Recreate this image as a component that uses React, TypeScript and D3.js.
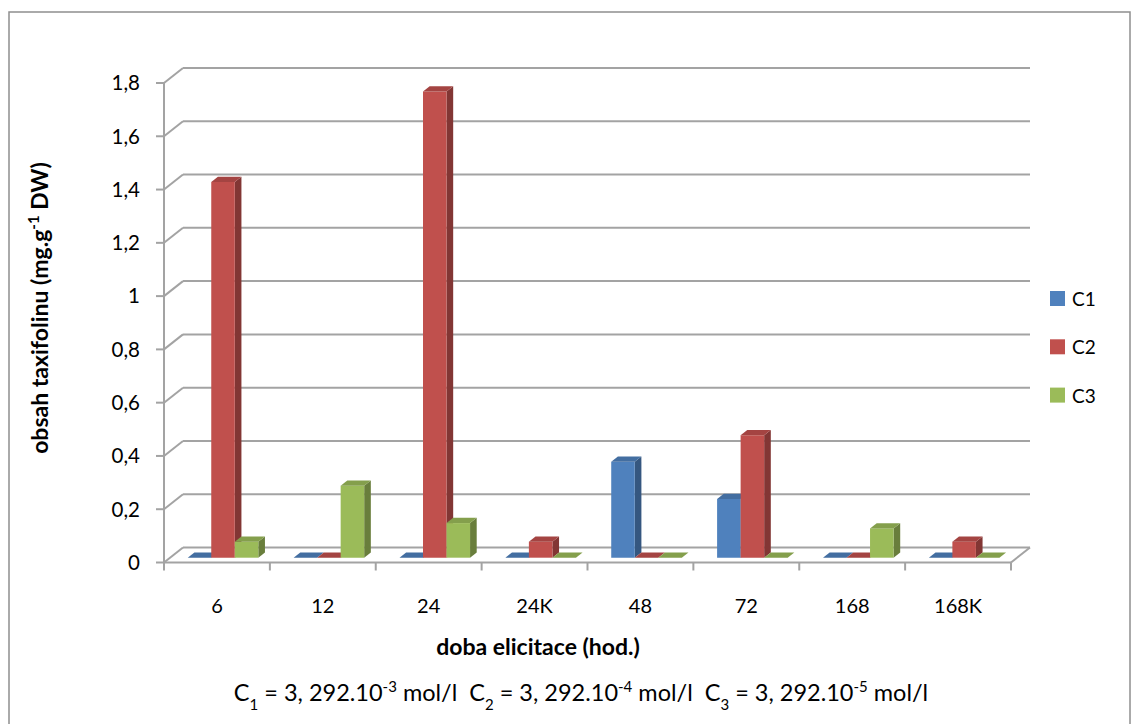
import React from "react";
import * as d3 from "d3";

// Taxifolin content by elicitation time, three elicitor concentrations
const categories = ["6", "12", "24", "24K", "48", "72", "168", "168K"];
const seriesNames = ["C1", "C2", "C3"];
const c1Values = [0, 0, 0, 0, 0.36, 0.22, 0, 0];
const c2Values = [1.41, 0, 1.75, 0.06, 0, 0.46, 0, 0.06];
const c3Values = [0.06, 0.27, 0.13, 0, 0, 0, 0.11, 0];
const yTicks = [0, 0.2, 0.4, 0.6, 0.8, 1, 1.2, 1.4, 1.6, 1.8];
const seriesColors = ["#4F81BD", "#C0504D", "#9BBB59"];

const W = 1131;
const H = 724;
const FONT = "Lato, 'Open Sans', sans-serif";

// plot box (front plane) and depth projection
const X0 = 164;
const X1 = 1011;
const Y0 = 562.5;
const YTOP = 83;
const DX = 19;
const DY = 15;
const Z0 = 0.32;
const Z1 = 0.67;

const proj = (x: number, y: number, z: number): [number, number] => [x + z * DX, y - z * DY];
const pts = (arr: [number, number][]) => arr.map((p) => p.join(",")).join(" ");
const GAP = "\u00a0\u00a0";

export default function App() {
  const seriesValues = [c1Values, c2Values, c3Values];
  const x = d3.scaleBand<string>().domain(categories).range([X0, X1]).padding(0);
  const xs = d3
    .scaleBand<string>()
    .domain(seriesNames)
    .range([0, x.bandwidth()])
    .paddingInner(0)
    .paddingOuter(0.75);
  const y = d3.scaleLinear().domain([0, 1.8]).range([Y0, YTOP]);
  const fmt = (v: number) => d3.format("~g")(v).replace(".", ",");

  const grid = "#a3a3a3";

  const bars: JSX.Element[] = [];
  categories.forEach((cat, ci) => {
    seriesNames.forEach((s, si) => {
      const v = seriesValues[si][ci];
      const bx = (x(cat) as number) + (xs(s) as number);
      const bw = xs.bandwidth();
      const yb = y(0);
      const yt = y(v);
      const base = d3.color(seriesColors[si])!;
      const topCol = base.darker(0.45).formatHex();
      const sideCol = base.darker(1.1).formatHex();
      const fbl = proj(bx, yb, Z0);
      const fbr = proj(bx + bw, yb, Z0);
      const ftl = proj(bx, yt, Z0);
      const ftr = proj(bx + bw, yt, Z0);
      const btl = proj(bx, yt, Z1);
      const btr = proj(bx + bw, yt, Z1);
      const bbr = proj(bx + bw, yb, Z1);
      bars.push(
        <g key={`${cat}-${s}`}>
          {v > 0 && <polygon points={pts([fbr, bbr, btr, ftr])} fill={sideCol} />}
          {v > 0 && <polygon points={pts([fbl, fbr, ftr, ftl])} fill={seriesColors[si]} />}
          <polygon points={pts([ftl, ftr, btr, btl])} fill={topCol} />
        </g>
      );
    });
  });

  return (
    <svg
      width={W}
      height={H}
      style={{ position: "absolute", left: 0, top: 0, background: "#fff" }}
      fontFamily={FONT}
    >
      <rect x={9} y={12} width={1121} height={740} fill="#fff" stroke="#8f8f8f" strokeWidth={1.5} />

      {/* back wall and side wall gridlines */}
      {yTicks.map((t) => {
        const a = proj(X0, y(t), 0);
        const b = proj(X0, y(t), 1);
        const c = proj(X1, y(t), 1);
        return (
          <g key={`g${t}`}>
            <line x1={a[0]} y1={a[1]} x2={b[0]} y2={b[1]} stroke={grid} strokeWidth={2} />
            <line x1={b[0]} y1={b[1]} x2={c[0]} y2={c[1]} stroke={grid} strokeWidth={2} />
          </g>
        );
      })}

      {/* floor edges */}
      {(() => {
        const a = proj(X1, Y0, 0);
        const b = proj(X1, Y0, 1);
        return <line x1={a[0]} y1={a[1]} x2={b[0]} y2={b[1]} stroke={grid} strokeWidth={2} />;
      })()}
      <line x1={X0} y1={Y0} x2={X1} y2={Y0} stroke={grid} strokeWidth={2} />

      {/* value axis */}
      <line x1={X0} y1={y(1.8)} x2={X0} y2={Y0} stroke={grid} strokeWidth={2} />
      {yTicks.map((t) => (
        <g key={`yt${t}`}>
          <line x1={X0 - 8} y1={y(t)} x2={X0} y2={y(t)} stroke={grid} strokeWidth={2} />
          <text x={140} y={y(t)} dy="0.36em" textAnchor="end" fontSize={20.5} fill="#000">
            {fmt(t)}
          </text>
        </g>
      ))}

      {/* category axis */}
      {d3.range(categories.length + 1).map((i) => {
        const xx = X0 + i * x.bandwidth();
        return <line key={`xt${i}`} x1={xx} y1={Y0} x2={xx} y2={Y0 + 8} stroke={grid} strokeWidth={2} />;
      })}
      {categories.map((c) => (
        <text
          key={`xl${c}`}
          x={(x(c) as number) + x.bandwidth() / 2}
          y={613}
          textAnchor="middle"
          fontSize={20}
          fill="#000"
        >
          {c}
        </text>
      ))}

      {bars}

      {/* axis titles */}
      <text x={538} y={655} textAnchor="middle" fontSize={23} fontWeight="bold" fill="#000">
        doba elicitace (hod.)
      </text>
      <text
        transform="translate(48,308) rotate(-90)"
        textAnchor="middle"
        fontSize={23}
        fontWeight="bold"
        fill="#000"
      >
        obsah taxifolinu (mg.g
        <tspan baselineShift="super" fontSize={15}>-1</tspan>
        <tspan> DW)</tspan>
      </text>

      {/* legend */}
      {seriesNames.map((s, i) => (
        <g key={`lg${s}`}>
          <rect x={1050} y={291 + i * 48.3} width={15} height={15} fill={seriesColors[i]} />
          <text x={1072} y={306 + i * 48.3} fontSize={19} fill="#000">
            {s}
          </text>
        </g>
      ))}

      {/* concentration note */}
      <text x={581} y={701} textAnchor="middle" fontSize={23.5} fill="#000">
        C<tspan baselineShift="sub" fontSize={15}>1</tspan>
        <tspan> = 3, 292.10</tspan>
        <tspan baselineShift="super" fontSize={15}>-3</tspan>
        <tspan>{` mol/l${GAP}C`}</tspan>
        <tspan baselineShift="sub" fontSize={15}>2</tspan>
        <tspan> = 3, 292.10</tspan>
        <tspan baselineShift="super" fontSize={15}>-4</tspan>
        <tspan>{` mol/l${GAP}C`}</tspan>
        <tspan baselineShift="sub" fontSize={15}>3</tspan>
        <tspan> = 3, 292.10</tspan>
        <tspan baselineShift="super" fontSize={15}>-5</tspan>
        <tspan> mol/l</tspan>
      </text>
    </svg>
  );
}
